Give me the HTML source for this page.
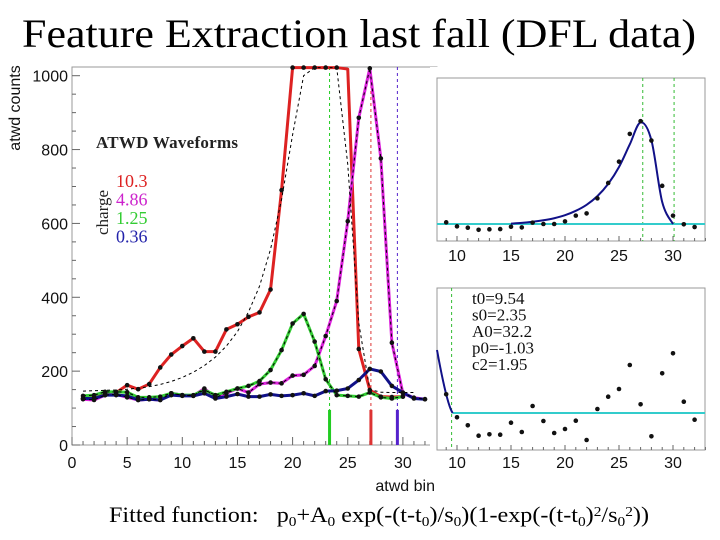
<!DOCTYPE html>
<html><head><meta charset="utf-8"><style>
body{margin:0;background:#fff;}
svg{display:block;}
.t{font-family:"Liberation Sans",sans-serif;font-size:16px;fill:#111;}
.s{font-family:"Liberation Serif",serif;}
</style></head><body>
<svg id="c" width="720" height="540" viewBox="0 0 720 540" xmlns="http://www.w3.org/2000/svg">
<text class="s" x="359" y="47" font-size="40" text-anchor="middle" fill="#000" textLength="674" lengthAdjust="spacingAndGlyphs">Feature Extraction last fall (DFL data)</text>
<g id="main"></g>
<g id="top"></g>
<g id="bot"></g>
<text class="s" x="109" y="522" font-size="22" fill="#000" textLength="540" lengthAdjust="spacingAndGlyphs">Fitted function:&#160;&#160; p<tspan font-size="14" dy="4">0</tspan><tspan dy="-4">+A</tspan><tspan font-size="14" dy="4">0</tspan><tspan dy="-4"> exp(-(t-t</tspan><tspan font-size="14" dy="4">0</tspan><tspan dy="-4">)/s</tspan><tspan font-size="14" dy="4">0</tspan><tspan dy="-4">)(1-exp(-(t-t</tspan><tspan font-size="14" dy="4">0</tspan><tspan dy="-4">)</tspan><tspan font-size="14" dy="-6">2</tspan><tspan dy="6">/s</tspan><tspan font-size="14" dy="4">0</tspan><tspan font-size="14" dy="-10">2</tspan><tspan dy="6">))</tspan></text>
</svg>
<script>
const bins=[1,2,3,4,5,6,7,8,9,10,11,12,13,14,15,16,17,18,19,20,21,22,23,24,25,26,27,28,29,30,31,32];
const redVals=[126,129,140,142,162,151,165,210,245,268,289,253,253,313,327,347,359,421,690,1022,1022,1022,1022,1022,1018,260,149,131,130,131];
const magentaVals=[124,122,135,137,129,122,124,122,140,135,133,153,129,140,153,142,165,169,167,188,190,214,295,390,606,886,1020,776,277,140,128,124];
const greenVals=[133,135,144,144,143,129,129,131,140,135,135,149,135,144,153,160,173,203,257,329,355,280,178,135,133,131,142,129,126,131];
const blueVals=[126,126,135,135,133,122,124,122,135,133,133,140,126,131,138,131,131,137,133,135,140,133,146,147,153,176,206,199,160,142,126,124];
const redFitVals=[146,147,148,149,151,154,158,164,172,183,197,215,238,268,307,360,430,530,665,840,1000,1022,1022,1022,760,330,150,143,142,142,142];
const xTicks=[0,5,10,15,20,25,30];
const yTicks=[0,200,400,600,800,1000];
const markers=[{bin:23.35,c:'#2c2'},{bin:27.1,c:'#d33'},{bin:29.5,c:'#52c'}];
const topBins=[9,10,11,12,13,14,15,16,17,18,19,20,21,22,23,24,25,26,27,28,29,30,31,32];
const topVals=[131.2,128.3,127.3,125.8,126.1,126.3,128,127.5,131,130,130,131.9,136.1,137.7,148.7,159.9,175.4,195.6,204.9,190.8,157.8,136.1,129.8,127.8];
const topFit=[130,130,130,130,130,130,130.3,130.8,131.6,132.7,134.2,136.4,139.6,144,150.3,159.2,171.5,188,204,191,146,130,130,130];
const botVals=[18.7,-4.3,-12.3,-22.7,-21.3,-21.7,-9.7,-19,7,-8,-20,-16,-7.7,-27,4,16.3,24,48,8.7,-23.3,39.7,59.7,11.3,-6.7];
const botTicks=[10,15,20,25,30];
const fitParams=['t0=9.54','s0=2.35','A0=32.2','p0=-1.03','c2=1.95'];

const NS='http://www.w3.org/2000/svg';
function mk(p,tag,at){const e=document.createElementNS(NS,tag);for(const k in at)e.setAttribute(k,at[k]);p.appendChild(e);return e;}
const X=b=>72+b*11.03, Y=v=>445-v*0.3693;
const M=document.getElementById('main');
let fr=mk(M,'rect',{x:72,y:67,width:365,height:378,fill:'none',stroke:'#999','stroke-width':1});


for(let b=0;b<=32;b++){let tk=mk(M,'line',{x1:X(b),x2:X(b),y1:445,y2:b%5?441:437,stroke:'#666'});

}
for(let v=0;v<=1000;v+=50){let tk=mk(M,'line',{x1:72,x2:v%200?76:80,y1:Y(v),y2:Y(v),stroke:'#666'});

}
xTicks.forEach(t=>{let e=mk(M,'text',{x:X(t),y:468,'text-anchor':'middle',class:'t'});e.textContent=t;

});
yTicks.forEach(t=>{let e=mk(M,'text',{x:68,y:Y(t)+6,'text-anchor':'end',class:'t'});e.textContent=t;

});
let yt=mk(M,'text',{x:0,y:0,class:'t',transform:'translate(20,108) rotate(-90)','text-anchor':'middle'});yt.textContent='atwd counts';


let xt=mk(M,'text',{x:435,y:491,class:'t','text-anchor':'end'});xt.textContent='atwd bin';


markers.forEach(m=>{let l=mk(M,'line',{x1:X(m.bin),x2:X(m.bin),y1:67,y2:445,stroke:m.c,'stroke-dasharray':'3,3','stroke-width':1});


let s=mk(M,'line',{x1:X(m.bin),x2:X(m.bin),y1:Y(95),y2:445,stroke:m.c,'stroke-width':3});

});
function clipV(v){return Math.min(v,1022);}
function poly(vals,color,w,dash,name){const pts=vals.map((v,i)=>X(bins[i])+','+Y(clipV(v))).join(' ');
let p=mk(M,'polyline',{points:pts,fill:'none',stroke:color,'stroke-width':w,'stroke-linejoin':'round'});if(dash)p.setAttribute('stroke-dasharray',dash);

return p;}
function dots(vals,name){vals.forEach((v,i)=>{if(v>1010)return;let c=mk(M,'circle',{cx:X(bins[i]),cy:Y(v),r:2.3,fill:'#111'});

});}
poly(redVals,'#d22',3,null,'red-waveform');
poly(magentaVals,'#d2d',3,null,'magenta-waveform');
poly(greenVals,'#3c3',3,null,'green-waveform');
poly(blueVals,'#118',3,null,'blue-waveform');
poly(redFitVals,'#000',1,'3,3','red-fit-curve');
poly(magentaVals,'#000',1,'3,3','magenta-fit-curve');
poly(greenVals,'#000',1,'3,3','green-fit-curve');
dots(redVals,'red-point');dots(magentaVals,'magenta-point');dots(greenVals,'green-point');dots(blueVals,'blue-point');
[[X(20),Y(1022)],[X(21),Y(1022)],[X(22),Y(1022)],[X(23),Y(1022)],[X(24),Y(1022)],[X(27),Y(1020)]].forEach(p=>{let c=mk(M,'circle',{cx:p[0],cy:p[1],r:2.3,fill:'#111'});

});
let lg=mk(M,'text',{x:96,y:148,class:'s','font-size':17,'font-weight':'bold',fill:'#222',textLength:142});lg.textContent='ATWD Waveforms';


let ch=mk(M,'text',{x:0,y:0,class:'s','font-size':17,fill:'#222',transform:'translate(108,235) rotate(-90)'});ch.textContent='charge';


[['10.3','#d22'],['4.86','#c2c'],['1.25','#3c3'],['0.36','#22a']].forEach((e,i)=>{let t=mk(M,'text',{x:116,y:187+i*18.5,class:'s','font-size':18,fill:e[1]});t.textContent=e[0];

});

const XR=b=>457-10*10.8+b*10.8;
function panel(g,y0,y1,labelY){let r=mk(g,'rect',{x:437,y:y0,width:268,height:y1-y0,fill:'#fff',stroke:'#999'});


for(let b=9;b<=33;b++){let tk=mk(g,'line',{x1:XR(b),x2:XR(b),y1:y1,y2:y1-(b%5?3:5),stroke:'#666'});

}
botTicks.forEach(t=>{let e=mk(g,'text',{x:XR(t),y:labelY,'text-anchor':'middle',class:'t'});e.textContent=t;

});}
const T=document.getElementById('top');
let tb=mk(T,'rect',{x:430,y:67,width:8,height:383,fill:'#fff',stroke:'none'});


panel(T,78,241,261);
const YT=v=>224-(v-130)*1.373;
[27.2,30.1].forEach(b=>{let l=mk(T,'line',{x1:XR(b),x2:XR(b),y1:78,y2:241,stroke:'#3b3','stroke-dasharray':'3,3'});

});
let bl=mk(T,'line',{x1:437,x2:705,y1:YT(130),y2:YT(130),stroke:'#3cc','stroke-width':2});


function smooth(xs,ys){let d='M'+xs[0]+','+ys[0];for(let i=0;i<xs.length-1;i++){const p0=[xs[Math.max(i-1,0)],ys[Math.max(i-1,0)]],p1=[xs[i],ys[i]],p2=[xs[i+1],ys[i+1]],p3=[xs[Math.min(i+2,xs.length-1)],ys[Math.min(i+2,xs.length-1)]];
d+=' C'+(p1[0]+(p2[0]-p0[0])/6)+','+(p1[1]+(p2[1]-p0[1])/6)+' '+(p2[0]-(p3[0]-p1[0])/6)+','+(p2[1]-(p3[1]-p1[1])/6)+' '+p2[0]+','+p2[1];}return d;}
let fp=mk(T,'path',{d:smooth(topBins.slice(6,22).map(XR),topFit.slice(6,22).map(YT)),fill:'none',stroke:'#118','stroke-width':2});


topVals.forEach((v,i)=>{let c=mk(T,'circle',{cx:XR(topBins[i]),cy:YT(v),r:2.3,fill:'#111'});

});

const B=document.getElementById('bot');
panel(B,288,450,468);
const YB=v=>413-v;
let vm=mk(B,'line',{x1:XR(9.5),x2:XR(9.5),y1:288,y2:450,stroke:'#3b3','stroke-dasharray':'3,3'});


let bl2=mk(B,'line',{x1:XR(9.6),x2:705,y1:YB(0),y2:YB(0),stroke:'#3cc','stroke-width':2});


let fc=mk(B,'path',{d:'M437,350 Q447,405 '+XR(9.6)+','+YB(0),fill:'none',stroke:'#118','stroke-width':2});


botVals.forEach((v,i)=>{let c=mk(B,'circle',{cx:XR(topBins[i]),cy:YB(v),r:2.3,fill:'#111'});

});
fitParams.forEach((s,i)=>{let t=mk(B,'text',{x:472,y:304+i*16.5,class:'s','font-size':17,fill:'#111'});t.textContent=s;

});
</script>
</body></html>
